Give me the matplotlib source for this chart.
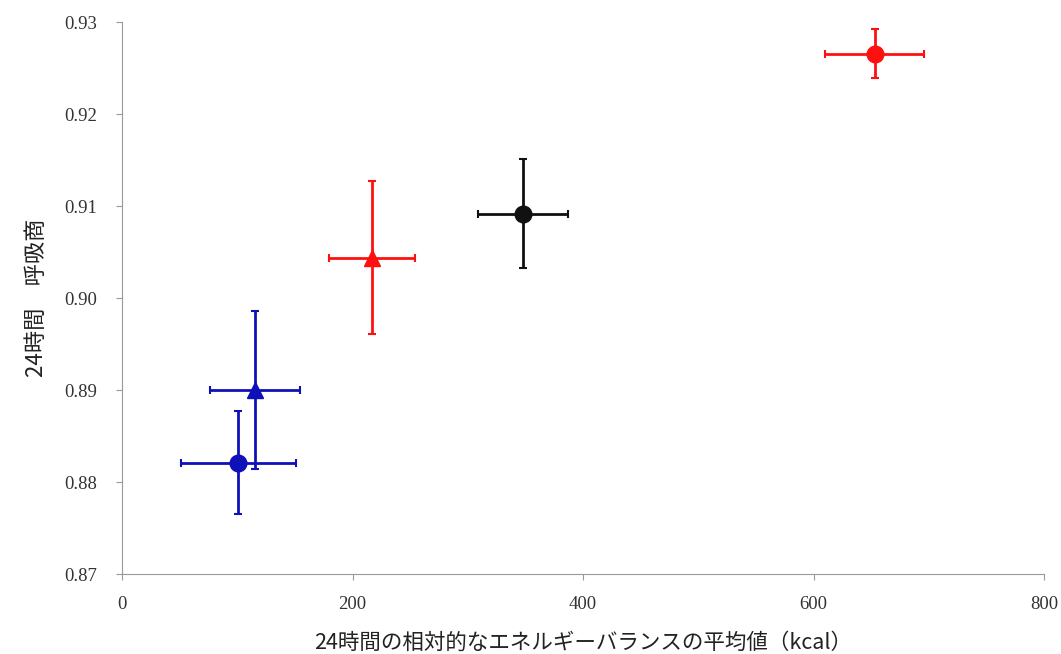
import matplotlib
matplotlib.use("Agg")
import matplotlib.pyplot as plt

# mean values
x_vals = [101, 115, 217, 348, 653]
y_vals = [0.8821, 0.8900, 0.9044, 0.9092, 0.9266]
x_err = [50, 39, 37, 39, 43]
y_err = [0.0056, 0.0086, 0.0083, 0.0059, 0.0027]
markers = ['o', '^', '^', 'o', 'o']
colors = ['#1010b8', '#1010b8', '#ff1010', '#111111', '#ff1010']

x_ticks = [0, 200, 400, 600, 800]
y_ticks = [0.87, 0.88, 0.89, 0.90, 0.91, 0.92, 0.93]

x_label = "24時間の相対的なエネルギーバランスの平均値（kcal）"
y_label = "24時間　呼吸商"

fig = plt.figure(figsize=(10.61, 6.54), dpi=100)
ax = fig.add_axes([0.115, 0.122, 0.869, 0.844])

for x, y, xe, ye, m, c in zip(x_vals, y_vals, x_err, y_err, markers, colors):
    ax.errorbar(x, y, xerr=xe, yerr=ye, fmt=m, color=c, ecolor=c,
                markersize=12, elinewidth=2, capsize=3, capthick=1.5)

ax.set_xlim(0, 800)
ax.set_ylim(0.87, 0.93)
ax.set_xticks(x_ticks)
ax.set_yticks(y_ticks)
ax.set_xticklabels([str(t) for t in x_ticks], family='Liberation Serif', fontsize=13.5)
ax.set_yticklabels([f"{t:.2f}" for t in y_ticks], family='Liberation Serif', fontsize=13.5)

for side in ['top', 'right']:
    ax.spines[side].set_visible(False)
for side in ['left', 'bottom']:
    ax.spines[side].set_color('#999999')
ax.tick_params(axis='y', colors='#999999', labelcolor='#333333', length=4, pad=14)
ax.tick_params(axis='x', colors='#999999', labelcolor='#333333', length=4, pad=12)

ax.set_xlabel(x_label, family=['Noto Sans CJK JP', 'DejaVu Sans'], fontsize=15.5,
              color='#222222', labelpad=13)
ax.set_ylabel(y_label, family=['Noto Sans CJK JP', 'DejaVu Sans'], fontsize=16,
              color='#222222', labelpad=12)

fig.savefig("out.png", dpi=100)
